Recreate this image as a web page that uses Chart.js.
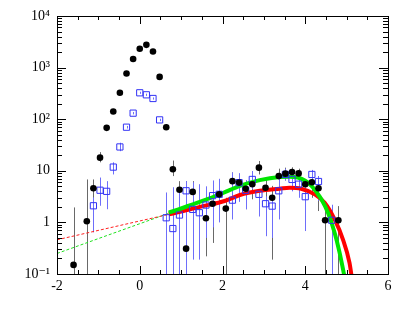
<!DOCTYPE html>
<html>
<head>
<meta charset="utf-8">
<script src="https://cdn.jsdelivr.net/npm/chart.js@4.4.1/dist/chart.umd.min.js"></script>
<style>
  body { margin: 0; background: #fff; }
</style>
</head>
<body>
<canvas id="myChart" width="409" height="327"></canvas>
<script>
// axis ticks
const xTickValues = [-2, 0, 2, 4, 6];
const yTickValues = [0.1, 1, 10, 100, 1000, 10000];
const yTickLabels = ['10⁻¹', '1', '10', '10²', '10³', '10⁴'];

// black points (filled) with error bars
const blackX = [-1.6, -1.28, -1.12, -0.96, -0.8, -0.64, -0.48, -0.32, -0.16, 0, 0.16, 0.32, 0.48, 0.64,
  0.8, 0.96, 1.12, 1.28, 1.6, 1.76, 1.92, 2.08, 2.24, 2.4, 2.56, 2.72, 2.88, 3.04, 3.2, 3.36,
  3.52, 3.68, 3.84, 4.0, 4.16, 4.32, 4.48, 4.8];
const blackY = [0.15, 1.05, 4.6, 18, 68, 141, 325, 770, 1470, 2320, 2760, 2050, 660, 70,
  10.7, 4.3, 0.31, 3.9, 1.2, 2.3, 3.5, 1.85, 6.3, 5.9, 4.5, 5.5, 11.5, 4.7, 3.0, 7.9,
  8.8, 9.5, 8.9, 5.5, 6.0, 4.6, 1.1, 1.1];
const blackLo = [0.05, 0.05, 2.8, 14.6, 62, 134, 310, 740, 1410, 2230, 2650, 1970, 630, 62,
  7.9, 0.5, 0.05, 1.06, 0.22, 0.4, 1.8, 0.05, 4.4, 3.8, 1.8, 2.8, 8.5, 0.58, 0.19, 5.6,
  6.5, 7.5, 7.0, 3.8, 3.0, 1.66, 0.05, 0.05];
const blackHi = [1.95, 6.8, 6.8, 23, 77, 148, 340, 800, 1530, 2410, 2870, 2130, 690, 80,
  15.8, 6.3, 6.3, 6.3, 2.2, 5.0, 6.0, 3.0, 9.3, 8.5, 6.3, 9.9, 15.5, 6.9, 5.1, 11,
  11.5, 11.7, 11, 6.9, 7.9, 7.9, 2.2, 2.07];

// blue points (open squares) with error bars
const blueX = [-1.12, -0.96, -0.8, -0.64, -0.48, -0.32, -0.16, 0, 0.16, 0.32, 0.48, 0.64, 0.8,
  0.96, 1.12, 1.28, 1.44, 1.6, 1.76, 1.92, 2.24, 2.4, 2.56, 2.72, 2.88, 3.04, 3.2, 3.36,
  3.52, 3.68, 3.84, 4.0, 4.16, 4.32, 4.64];
const blueY = [2.1, 4.2, 4.0, 11.8, 29, 70, 131, 325, 297, 252, 97, 1.23, 0.76,
  1.39, 4.1, 1.79, 1.54, 2.17, 3.3, 3.5, 2.7, 5.9, 4.2, 6.8, 3.5, 2.3, 2.07, 4.1,
  8.5, 6.8, 5.5, 3.15, 8.5, 6.2, 1.1];
const blueLo = [0.64, 2.1, 1.8, 8.5, 24, 66, 124, 310, 283, 240, 92, 0.05, 0.05,
  0.05, 0.05, 0.19, 0.19, 0.5, 0.8, 1.0, 1.14, 2.5, 1.8, 4.4, 1.3, 0.54, 0.5, 1.14,
  6.5, 4.0, 3.0, 0.68, 5.1, 2.6, 0.05];
const blueHi = [3.05, 7.4, 6.3, 14.6, 35, 74, 138, 340, 312, 264, 102, 3.8, 4.8,
  4.5, 6.3, 6.0, 5.5, 5.0, 6.5, 7.0, 9.3, 9.0, 6.6, 9.9, 4.4, 3.2, 3.2, 7.0,
  11, 9.5, 8.5, 5.5, 10.4, 7.9, 2.2];

// fitted curves
const greenX = [0.7, 1.0, 1.5, 2.0, 2.42, 2.9, 3.38, 3.62, 3.82, 4.0, 4.15, 4.3, 4.39, 4.55, 4.71, 4.83, 4.93, 4.96];
const greenY = [1.55, 1.86, 2.57, 3.67, 5.1, 6.6, 7.6, 7.7, 7.4, 6.4, 5.1, 3.6, 2.8, 1.54, 0.63, 0.26, 0.105, 0.08];
const redX = [0.7, 1.0, 1.5, 2.05, 2.42, 2.9, 3.38, 3.62, 3.9, 4.23, 4.47, 4.71, 4.91, 5.07, 5.13];
const redY = [1.43, 1.62, 2.04, 2.6, 3.4, 4.1, 4.5, 4.7, 4.5, 3.5, 2.4, 1.14, 0.47, 0.165, 0.08];

// dashed extrapolations
const redDashX = [-2, 0.7];
const redDashY = [0.46, 1.43];
const greenDashX = [-2, 0.7];
const greenDashY = [0.25, 1.5];

const pts = (xs, ys) => xs.map((x, i) => ({x, y: ys[i]}));

const errorBars = {
  id: 'errorBars',
  beforeDatasetsDraw(chart) {
    const {ctx, chartArea, scales: {x, y}} = chart;
    ctx.save();
    ctx.beginPath();
    ctx.rect(chartArea.left, chartArea.top, chartArea.width, chartArea.height);
    ctx.clip();
    chart.data.datasets.forEach(ds => {
      if (!ds.errLow) return;
      ctx.strokeStyle = ds.errColor;
      ctx.lineWidth = 1;
      ds.data.forEach((p, i) => {
        const px = Math.round(x.getPixelForValue(p.x)) + 0.5;
        ctx.beginPath();
        ctx.moveTo(px, y.getPixelForValue(ds.errLow[i]));
        ctx.lineTo(px, y.getPixelForValue(ds.errHigh[i]));
        ctx.stroke();
      });
    });
    ctx.restore();
  }
};

// frame with inward ticks, ROOT style
const frameTicks = {
  id: 'frameTicks',
  afterDraw(chart) {
    const {ctx, chartArea: a, scales: {x, y}} = chart;
    ctx.save();
    ctx.strokeStyle = '#000';
    ctx.lineWidth = 1;
    ctx.strokeRect(a.left + 0.5, a.top + 0.5, a.right - a.left, a.bottom - a.top);
    ctx.beginPath();
    for (let v = -2; v <= 6.001; v += 0.5) {
      const px = Math.round(x.getPixelForValue(v)) + 0.5;
      const len = Math.abs(v % 2) < 1e-6 ? 8 : 4;
      ctx.moveTo(px, a.bottom); ctx.lineTo(px, a.bottom - len);
      ctx.moveTo(px, a.top); ctx.lineTo(px, a.top + len);
    }
    for (let d = -1; d <= 4; d++) {
      for (let m = 1; m <= 9; m++) {
        const v = m * Math.pow(10, d);
        if (v > 10000.001) break;
        const py = Math.round(y.getPixelForValue(v)) + 0.5;
        const len = m === 1 ? 9 : 5;
        ctx.moveTo(a.left, py); ctx.lineTo(a.left + len, py);
        ctx.moveTo(a.right, py); ctx.lineTo(a.right - len, py);
      }
    }
    ctx.stroke();
    ctx.restore();
  }
};

const tickFont = {family: "'Liberation Serif', 'DejaVu Serif', serif", size: 14};

const ctx = document.getElementById('myChart').getContext('2d');
new Chart(ctx, {
  type: 'scatter',
  data: {
    datasets: [
      {
        label: 'black', data: pts(blackX, blackY),
        pointStyle: 'circle', pointRadius: 3.3, backgroundColor: '#000', borderColor: '#000', borderWidth: 0,
        errLow: blackLo, errHigh: blackHi, errColor: 'rgb(105,105,105)'
      },
      {
        label: 'blue', data: pts(blueX, blueY),
        pointStyle: 'rect', pointRadius: 4.4, backgroundColor: 'rgba(255,255,255,0)', borderColor: 'rgb(50,50,245)', borderWidth: 1,
        errLow: blueLo, errHigh: blueHi, errColor: 'rgb(110,110,250)'
      },
      {
        type: 'line', label: 'green', data: pts(greenX, greenY),
        borderColor: '#00e600', borderWidth: 4, pointRadius: 0, cubicInterpolationMode: 'monotone', fill: false
      },
      {
        type: 'line', label: 'red', data: pts(redX, redY),
        borderColor: '#ff0000', borderWidth: 4, pointRadius: 0, cubicInterpolationMode: 'monotone', fill: false
      },
      {
        type: 'line', label: 'red dashed', data: pts(redDashX, redDashY),
        borderColor: '#ff2020', borderWidth: 1, borderDash: [3, 2], pointRadius: 0, fill: false
      },
      {
        type: 'line', label: 'green dashed', data: pts(greenDashX, greenDashY),
        borderColor: '#20e020', borderWidth: 1, borderDash: [3, 2], pointRadius: 0, fill: false
      }
    ]
  },
  options: {
    responsive: false,
    animation: false,
    layout: {padding: {top: 16, right: 21, left: 0, bottom: 0}},
    plugins: {legend: {display: false}, tooltip: {enabled: false}},
    scales: {
      x: {
        type: 'linear', min: -2, max: 6,
        grid: {display: false, drawTicks: false},
        border: {display: false},
        afterBuildTicks: s => { s.ticks = xTickValues.map(v => ({value: v})); },
        afterFit: s => { s.height = 53; },
        ticks: {font: tickFont, color: '#000', padding: 4, autoSkip: false, maxRotation: 0}
      },
      y: {
        type: 'logarithmic', min: 0.1, max: 10000,
        grid: {display: false, drawTicks: false},
        border: {display: false},
        afterBuildTicks: s => { s.ticks = yTickValues.map(v => ({value: v})); },
        afterFit: s => { s.width = 57; },
        ticks: {font: tickFont, color: '#000', padding: 7, autoSkip: false,
          callback: (v, i) => yTickLabels[i]}
      }
    }
  },
  plugins: [errorBars, frameTicks]
});
</script>
</body>
</html>
